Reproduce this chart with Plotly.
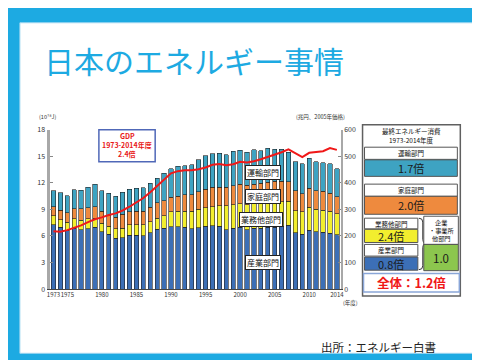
import plotly.graph_objects as go

# ---------------- data ----------------
years = list(range(1973, 2015))
industry = [7.28, 6.99, 6.66, 6.90, 6.73, 6.80, 7.00, 6.47, 6.18, 5.74, 5.80, 6.10, 6.10, 6.00,
            6.37, 6.75, 6.90, 7.05, 7.05, 7.00, 6.80, 6.95, 7.10, 7.15, 7.10, 6.73, 6.90, 7.00,
            6.73, 6.90, 6.90, 7.00, 7.00, 7.10, 7.20, 6.37, 6.18, 6.66, 6.50, 6.42, 6.30, 6.12]
commercial = [1.02, 0.84, 0.91, 1.04, 1.07, 1.14, 1.00, 0.99, 0.92, 1.10, 1.10, 1.18, 1.18, 1.28,
              1.23, 1.25, 1.40, 1.70, 1.75, 1.80, 2.00, 2.05, 2.10, 2.15, 2.30, 2.67, 2.65, 2.65,
              2.82, 2.85, 2.90, 2.85, 2.90, 2.75, 2.70, 2.48, 2.57, 2.59, 2.50, 2.48, 2.50, 2.38]
household = [1.00, 1.09, 1.07, 1.16, 1.25, 1.25, 1.30, 1.34, 1.20, 1.25, 1.55, 1.47, 1.52, 1.52,
             1.65, 1.75, 1.70, 1.60, 1.70, 1.85, 1.85, 2.00, 2.10, 2.20, 2.10, 2.10, 2.12, 2.21,
             2.20, 2.11, 2.15, 2.20, 2.30, 2.35, 2.20, 2.25, 2.01, 2.15, 2.10, 2.15, 2.05, 1.95]
transport = [1.82, 1.95, 1.93, 2.10, 2.11, 2.30, 2.52, 2.32, 2.53, 2.37, 2.49, 2.52, 2.58, 2.62,
             2.71, 2.75, 3.10, 3.25, 3.35, 3.27, 3.42, 3.60, 3.75, 3.78, 3.86, 3.67, 3.88, 3.84,
             3.72, 3.87, 3.65, 3.85, 3.57, 3.57, 3.35, 3.30, 3.40, 3.35, 3.28, 3.23, 3.30, 3.15]
gdp = [218, 216, 222, 230, 240, 252, 263, 270, 279, 285, 296, 310, 327, 343, 365, 389, 412, 436,
       444, 447, 447, 451, 458, 468, 471, 466, 470, 479, 477, 481, 489, 497, 506, 515, 526, 510,
       497, 513, 515, 519, 531, 524]

tick_years = [1973, 1975, 1980, 1985, 1990, 1995, 2000, 2005, 2010, 2014]
tick_labels = ["1973", "1975", "1980", "1985", "1990", "1995", "2000", "2005", "2010", "2014"]

sector_names = ["産業部門", "業務他部門", "家庭部門", "運輸部門"]
ratio_texts = ["0.8倍", "2.4倍", "2.0倍", "1.7倍"]

# ---------------- style ----------------
W, H = 480, 360
BLUE_BORDER = "#1DAAE2"
C_IND, C_COM, C_HH, C_TR, C_GREEN = "#3C6FB6", "#F2EE2E", "#EE8A3E", "#3EA3C2", "#8CC64E"
FONT = "Noto Sans CJK JP, sans-serif"


def fx(px):
    return px / W


def fy(py):
    return 1 - py / H


fig = go.Figure()
for vals, name, col in [(industry, sector_names[0], C_IND), (commercial, sector_names[1], C_COM),
                        (household, sector_names[2], C_HH), (transport, sector_names[3], C_TR)]:
    fig.add_trace(go.Bar(x=years, y=vals, name=name, width=0.62,
                         marker=dict(color=col, line=dict(color="#222222", width=0.6))))

fig.add_trace(go.Scatter(x=years, y=gdp, yaxis="y2", mode="lines", name="GDP",
                         line=dict(color="#F01818", width=2)))

shapes = []
annots = []


def rect(x0, y0, x1, y1, fill="white", line="#555555", lw=1, layer="above"):
    shapes.append(dict(type="rect", xref="paper", yref="paper", x0=fx(x0), x1=fx(x1),
                       y0=fy(y1), y1=fy(y0), fillcolor=fill,
                       line=dict(color=line, width=lw), layer=layer))


def text(x, y, s, size=7.5, color="#111111", xanchor="center", bold=False, **kw):
    if bold:
        s = "<b>" + s + "</b>"
    annots.append(dict(x=fx(x), y=fy(y), xref="paper", yref="paper", text=s, showarrow=False,
                       xanchor=xanchor, yanchor="middle", borderpad=0,
                       font=dict(size=size, color=color, family=FONT), **kw))


# slide background white area
rect(9, 9, 470, 349, fill="white", line="#9ED6F0", lw=1, layer="below")

# title & source
text(32, 47, "日本のエネルギー事情", size=30, color=BLUE_BORDER, xanchor="left")
text(372, 342, "出所：エネルギー白書", size=11.5, color="#222222")

# units
text(37, 106, "(10¹⁸J)", size=5.5, color="#333333")
text(313, 106, "(兆円、2005年価格)", size=5.5, color="#333333")
text(344, 297, "(年度)", size=5.5, color="#333333")

# GDP box
rect(89, 119, 146, 152, fill="white", line="#5068B8", lw=1.5)
text(117.5, 125.5, "GDP", size=7, color="#E81818", bold=True)
text(117.5, 135, "1973-2014年度", size=7, color="#E81818", bold=True)
text(117.5, 144.5, "2.4倍", size=7, color="#E81818", bold=True)

# sector labels on chart
for s, (x, y) in zip(sector_names, [(255.5, 255.5), (253.5, 211), (255.5, 187.5), (255, 163.5)]):
    annots.append(dict(x=fx(x), y=fy(y), xref="paper", yref="paper", text=s, showarrow=False,
                       xanchor="center", yanchor="middle", bgcolor="white", bordercolor="#222222",
                       borderwidth=1, borderpad=1,
                       font=dict(size=8, color="#111111", family=FONT)))

# right panel
rect(356, 114, 455, 290, fill="white", line="#606060", lw=1.5)
text(405.5, 120.5, "最終エネルギー消費", size=6.5)
text(405.5, 129.5, "1973-2014年度", size=6.5)
# transport
rect(358, 137, 452, 149.5)
text(405, 143.3, sector_names[3], size=6.5)
rect(358, 150, 452, 167, fill=C_TR)
text(405, 158.5, ratio_texts[3], size=11, color="#1a1a1a")
# household
rect(358, 175, 452, 187.5)
text(405, 181.3, sector_names[2], size=6.5)
rect(358, 187.5, 452, 206, fill=C_HH)
text(405, 196.8, ratio_texts[2], size=11, color="#1a1a1a")
# commercial
rect(358, 210, 412, 221)
text(385, 215.5, sector_names[1], size=6.5)
rect(358, 221.5, 412, 235, fill=C_COM)
text(385, 228.3, ratio_texts[1], size=11, color="#1a1a1a")
# industry
rect(358, 237, 412, 249)
text(385, 243, sector_names[0], size=6.5)
rect(358, 250, 412, 263.5, fill=C_IND)
text(385, 256.8, ratio_texts[0], size=11, color="#1a1a1a")
# brace


def P(x, y):
    return f"{fx(x):.5f},{fy(y):.5f}"


brace = (f"M {P(413, 210)} Q {P(417, 210)} {P(417, 214)} L {P(417, 232)} "
         f"Q {P(417, 236)} {P(420, 236)} Q {P(417, 236)} {P(417, 240)} "
         f"L {P(417, 259)} Q {P(417, 263)} {P(413, 263)}")
shapes.append(dict(type="path", xref="paper", yref="paper", path=brace,
                   line=dict(color="#333333", width=1)))
# enterprise
rect(418, 208, 453, 237)
text(435.5, 214.5, "企業", size=6.2)
text(435.5, 222.5, "・事業所", size=6.2)
text(435.5, 230.5, "他部門", size=6.2)
rect(418, 237, 453, 264, fill=C_GREEN)
text(435.5, 250.5, "1.0", size=11.5, color="#1a1a1a")
# total
rect(357, 267, 454, 286, fill="white", line="#8AA6D8", lw=1.5)
text(405.5, 276.5, "全体：1.2倍", size=12.5, color="#F01818", bold=True)

fig.update_layout(
    width=W, height=H, margin=dict(l=0, r=0, t=0, b=0),
    paper_bgcolor=BLUE_BORDER, plot_bgcolor="white",
    barmode="stack", bargap=0.3, showlegend=False,
    font=dict(family=FONT, size=7, color="#333333"),
    xaxis=dict(domain=[fx(39), fx(334)], range=[1973 - 4 / 7, 2014 + 4 / 7],
               tickvals=tick_years, ticktext=tick_labels, tickangle=0,
               showgrid=False, zeroline=False, showline=True, linecolor="#444444",
               linewidth=1, ticks="", tickfont=dict(size=6, color="#333333")),
    yaxis=dict(domain=[fy(283), fy(119)], range=[0, 18], dtick=3, showgrid=False,
               zeroline=False, showline=True, linecolor="#A8A8A8", linewidth=3,
               ticks="inside", ticklen=3, tickcolor="#888888",
               tickfont=dict(size=7, color="#333333")),
    yaxis2=dict(overlaying="y", side="right", range=[0, 600], dtick=100, showgrid=False,
                zeroline=False, showline=True, linecolor="#A8A8A8", linewidth=2,
                ticks="inside", ticklen=3, tickcolor="#888888",
                tickfont=dict(size=7, color="#333333")),
    shapes=shapes, annotations=annots,
)

fig.write_html("out.html")
